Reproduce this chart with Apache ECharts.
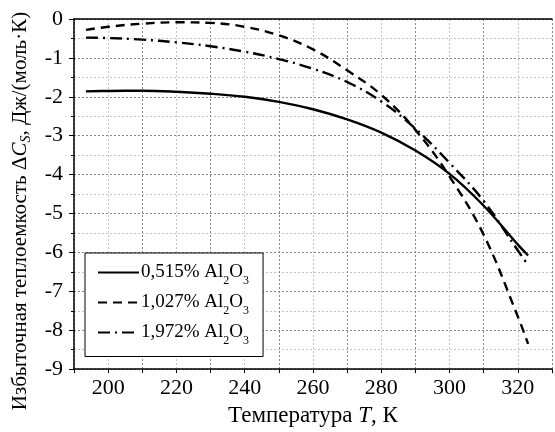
<!DOCTYPE html>
<html>
<head>
<meta charset="utf-8">
<script src="https://cdn.jsdelivr.net/npm/echarts@6/dist/echarts.min.js"></script>
<style>
html,body{margin:0;padding:0;background:#fff;}
#c{width:555px;height:432px;}
</style>
</head>
<body>
<div id="c"></div>
<script>
// Data
var temps = [193.5, 200, 210, 220, 230, 240, 250, 260, 270, 280, 290, 300, 310, 320, 323];
var s0515 = [-1.86, -1.85, -1.845, -1.87, -1.92, -2.0, -2.13, -2.32, -2.58, -2.92, -3.38, -3.98, -4.8, -5.8, -6.08];
var s1027 = [-0.28, -0.2, -0.12, -0.085, -0.1, -0.2, -0.42, -0.78, -1.32, -1.95, -2.85, -4.05, -5.55, -7.65, -8.35];
var s1972 = [-0.48, -0.49, -0.53, -0.6, -0.7, -0.84, -1.03, -1.28, -1.62, -2.12, -2.82, -3.7, -4.68, -5.95, -6.33];
var seriesNames = ['0,515% Al2O3', '1,027% Al2O3', '1,972% Al2O3'];
var legendParts = [['0,515% Al', '2', 'O', '3'], ['1,027% Al', '2', 'O', '3'], ['1,972% Al', '2', 'O', '3']];
var xTitle = ['Температура ', 'T', ', К'];
var yTitle = ['Избыточная теплоемкость Δ', 'C', 'S', ', Дж/(моль·К)'];

var FONT = "'Liberation Serif', 'Times New Roman', serif";
function pairs(ys){ return temps.map(function(t,i){ return [t, ys[i]]; }); }

var chart = echarts.init(document.getElementById('c'), null, {renderer:'canvas'});
var lineStyles = [
  {type:'solid', width:2.4},
  {type:[9,6], width:2.4},
  {type:[12,5,2,5], width:2.4}
];
var dataSets = [s0515, s1027, s1972];
var series = dataSets.map(function(d, i){
  return {
    name: seriesNames[i], type:'line', data: pairs(d),
    smooth: 0.4, symbol:'none', showSymbol:false,
    color:'#000', lineStyle: Object.assign({color:'#000'}, lineStyles[i]),
    animation:false, z: 3
  };
});

chart.setOption({
  animation:false,
  textStyle:{fontFamily:FONT},
  grid:{left:74, top:19, right:-3, bottom:60, containLabel:false},
  legend:{
    orient:'vertical', left:85, top:253,
    padding:[10,14,10,12], itemGap:6.5, itemWidth:41, itemHeight:14,
    borderColor:'#000', borderWidth:1, backgroundColor:'#fff',
    itemStyle:{opacity:0},
    data: seriesNames,
    formatter:function(name){
      var p = legendParts[seriesNames.indexOf(name)];
      return '{t|' + p[0] + '}{s|' + p[1] + '}{t|' + p[2] + '}{s|' + p[3] + '}';
    },
    textStyle:{
      fontFamily:FONT, color:'#000', padding:[0,0,0,-3],
      rich:{
        t:{fontFamily:FONT, fontSize:19, lineHeight:28, verticalAlign:'middle', color:'#000'},
        s:{fontFamily:FONT, fontSize:12, lineHeight:12, verticalAlign:'bottom', color:'#000'}
      }
    }
  },
  xAxis:[{
    type:'value', min:190, max:330, interval:10, position:'bottom',
    axisLine:{show:true, onZero:false, lineStyle:{color:'#000', width:1.5}},
    axisTick:{show:true, inside:false, length:4, lineStyle:{color:'#000', width:1}},
    axisLabel:{margin:8, fontFamily:FONT, fontSize:22, color:'#000',
      formatter:function(v){ return (Math.round(v) % 20 === 0) ? String(v) : ''; }},
    splitLine:{show:true, lineStyle:{color:['#888','#c4c4c4'], type:[2,2], width:1}},
    name: '{n|' + xTitle[0] + '}{i|' + xTitle[1] + '}{n|' + xTitle[2] + '}',
    nameLocation:'middle', nameGap:32,
    nameTextStyle:{fontFamily:FONT, color:'#000', rich:{
      n:{fontFamily:FONT, fontSize:23, color:'#000'},
      i:{fontFamily:FONT, fontSize:23, fontStyle:'italic', color:'#000'}
    }}
  },{
    type:'value', min:190, max:330, position:'top',
    axisLine:{show:true, onZero:false, lineStyle:{color:'#000', width:1.5}},
    axisTick:{show:false}, axisLabel:{show:false}, splitLine:{show:false}
  }],
  yAxis:{
    type:'value', min:-9, max:0, interval:1,
    axisLine:{show:true, onZero:false, lineStyle:{color:'#000', width:1.5}},
    axisTick:{show:true, inside:false, length:5, lineStyle:{color:'#000', width:1}},
    minorTick:{show:true, splitNumber:2, length:3, lineStyle:{color:'#000', width:1}},
    axisLabel:{margin:11, fontFamily:FONT, fontSize:22, color:'#000'},
    splitLine:{show:true, lineStyle:{color:'#888', type:[2,2], width:1}},
    minorSplitLine:{show:true, lineStyle:{color:'#c4c4c4', type:[2,2], width:1}},
    name: '{n|' + yTitle[0] + '}{i|' + yTitle[1] + '}{s|' + yTitle[2] + '}{n|' + yTitle[3] + '}',
    nameLocation:'middle', nameRotate:90, nameGap:37,
    nameTextStyle:{fontFamily:FONT, color:'#000', padding:[0,34,0,0], rich:{
      n:{fontFamily:FONT, fontSize:21, lineHeight:26, verticalAlign:'middle', color:'#000'},
      i:{fontFamily:FONT, fontSize:21, lineHeight:26, verticalAlign:'middle', fontStyle:'italic', color:'#000'},
      s:{fontFamily:FONT, fontSize:14, lineHeight:13, verticalAlign:'bottom', fontStyle:'italic', color:'#000'}
    }}
  },
  series: series
});
</script>
</body>
</html>
